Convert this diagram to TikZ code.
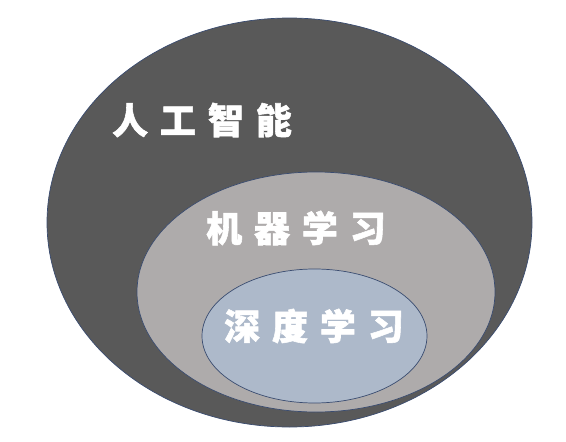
\documentclass[tikz,border=0pt]{standalone}
\usepackage{fontspec}
\usetikzlibrary{shapes.geometric}
\newfontfamily\cjk[LetterSpace=33,FakeBold=1.5]{Noto Sans CJK SC}
\definecolor{aiFill}{HTML}{595959}
\definecolor{mlFill}{HTML}{AEABAB}
\definecolor{dlFill}{HTML}{ADB9CA}
\definecolor{edge}{HTML}{3A4C70}
\begin{document}
\begin{tikzpicture}[x=1pt,y=-1pt,
  ring/.style={ellipse, draw=edge, line width=0.7pt, inner sep=0pt},
  lbl/.style={text=white, font=\cjk\fontsize{36}{40}\selectfont\bfseries, inner sep=0pt, anchor=center}]
\useasboundingbox (0,0) rectangle (566,442);
\node[ring, fill=aiFill, minimum width=485pt, minimum height=409pt] (ai) at (289.5,222.5) {};
\node[ring, fill=mlFill, minimum width=358pt, minimum height=240pt] (ml) at (316,292) {};
\node[ring, fill=dlFill, minimum width=225pt, minimum height=134pt] (dl) at (314.5,336) {};
\node[lbl] (ait) at (202,120) {人工智能};
\node[lbl] (mlt) at (296,228) {机器学习};
\node[lbl] (dlt) at (314,326) {深度学习};
\end{tikzpicture}
\end{document}
